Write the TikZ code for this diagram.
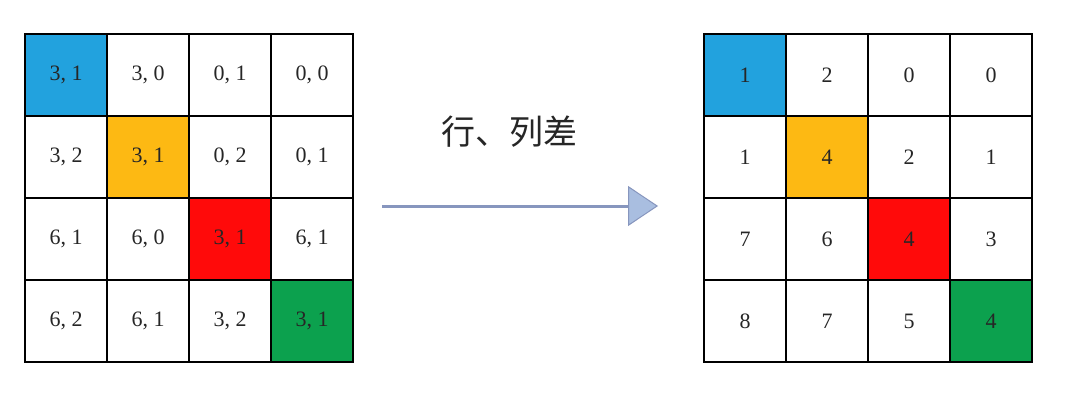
\documentclass[tikz,border=0pt]{standalone}
\usepackage{fontspec}
\setmainfont{Liberation Serif}
\newfontfamily\cjk{Noto Sans CJK SC}
\usetikzlibrary{arrows.meta}
\definecolor{cblue}{HTML}{22A2DE}
\definecolor{corange}{HTML}{FDB913}
\definecolor{cred}{HTML}{FF0A0A}
\definecolor{cgreen}{HTML}{0CA14E}
\definecolor{arrline}{HTML}{8796BE}
\definecolor{arrhead}{HTML}{A9BEE0}
\tikzset{
  cell/.style={draw=black, line width=2.4pt, minimum size=82pt, inner sep=0pt,
    font=\fontsize{22pt}{22pt}\selectfont, text=black!85},
  label/.style={font=\cjk\fontsize{34pt}{34pt}\selectfont, text=black!85},
  flow/.style={draw=arrline, line width=3pt,
    -{Triangle[length=30pt,width=40pt,fill=arrhead,line width=1pt]}}
}
\begin{document}
\begin{tikzpicture}[x=1pt,y=-1pt]
\useasboundingbox (0,0) rectangle (1080,404);
% left grid
\node[cell,fill=cblue]   (L11) at (66,75)  {3, 1};
\node[cell]              (L12) at (148,75) {3, 0};
\node[cell]              (L13) at (230,75) {0, 1};
\node[cell]              (L14) at (312,75) {0, 0};
\node[cell]              (L21) at (66,157)  {3, 2};
\node[cell,fill=corange] (L22) at (148,157) {3, 1};
\node[cell]              (L23) at (230,157) {0, 2};
\node[cell]              (L24) at (312,157) {0, 1};
\node[cell]              (L31) at (66,239)  {6, 1};
\node[cell]              (L32) at (148,239) {6, 0};
\node[cell,fill=cred]    (L33) at (230,239) {3, 1};
\node[cell]              (L34) at (312,239) {6, 1};
\node[cell]              (L41) at (66,321)  {6, 2};
\node[cell]              (L42) at (148,321) {6, 1};
\node[cell]              (L43) at (230,321) {3, 2};
\node[cell,fill=cgreen]  (L44) at (312,321) {3, 1};
% right grid
\node[cell,fill=cblue]   (R11) at (745,75)  {1};
\node[cell]              (R12) at (827,75)  {2};
\node[cell]              (R13) at (909,75)  {0};
\node[cell]              (R14) at (991,75)  {0};
\node[cell]              (R21) at (745,157) {1};
\node[cell,fill=corange] (R22) at (827,157) {4};
\node[cell]              (R23) at (909,157) {2};
\node[cell]              (R24) at (991,157) {1};
\node[cell]              (R31) at (745,239) {7};
\node[cell]              (R32) at (827,239) {6};
\node[cell,fill=cred]    (R33) at (909,239) {4};
\node[cell]              (R34) at (991,239) {3};
\node[cell]              (R41) at (745,321) {8};
\node[cell]              (R42) at (827,321) {7};
\node[cell]              (R43) at (909,321) {5};
\node[cell,fill=cgreen]  (R44) at (991,321) {4};
% arrow and label
\coordinate (a0) at (382,206);
\coordinate (a1) at (658,206);
\draw[flow] (a0) -- (a1);
\node[label] (lab) at (509,132) {行、列差};
\end{tikzpicture}
\end{document}
